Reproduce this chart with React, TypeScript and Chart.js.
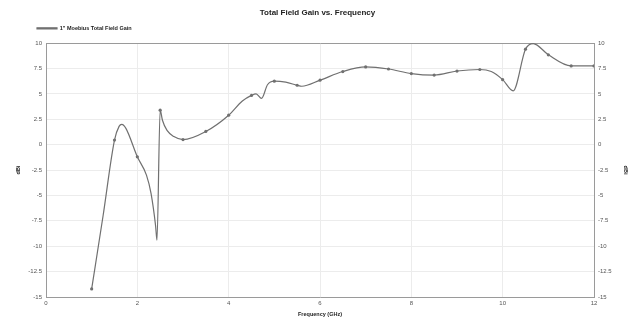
import React, { useEffect, useRef } from "react";
import { Chart, registerables } from "chart.js";

Chart.register(...registerables);

const chartTitle = "Total Field Gain vs. Frequency";
const seriesLabel = '1" Moebius Total Field Gain';
const xTitle = "Frequency (GHz)";
const yTitle = "dBi";

const freqs = [
  1.0, 1.25, 1.5, 1.6, 1.66, 1.75, 2.0, 2.2, 2.3, 2.4, 2.43, 2.5, 2.55, 2.65, 2.8, 3.0,
  3.5, 4.0, 4.3, 4.5, 4.6, 4.72, 4.85, 5.0, 5.25, 5.5, 5.6, 6.0, 6.5, 7.0, 7.5,
  8.0, 8.5, 9.0, 9.5, 9.75, 10.0, 10.23, 10.5, 10.67, 11.0, 11.5, 12.0,
];
const gains = [
  -14.2, -7.0, 0.45, 1.8, 2.0, 1.6, -1.2, -3.0, -4.8, -8.0, -9.4, 3.4, 2.4, 1.4, 0.8, 0.5,
  1.3, 2.9, 4.3, 4.85, 5.0, 4.55, 5.9, 6.25, 6.15, 5.85, 5.75, 6.35, 7.2, 7.65, 7.45,
  7.0, 6.85, 7.25, 7.4, 7.2, 6.4, 5.3, 9.4, 9.95, 8.85, 7.75, 7.75,
];
const markerFreqs = [
  1.0, 1.5, 2.0, 2.5, 3.0, 3.5, 4.0, 4.5, 5.0, 5.5, 6.0, 6.5, 7.0, 7.5, 8.0, 8.5,
  9.0, 9.5, 10.0, 10.5, 11.0, 11.5, 12.0,
];
const xMin = 0;
const xMax = 12;
const xStep = 2;
const yMin = -15;
const yMax = 10;
const yStep = 2.5;

const FONT = "'Liberation Sans', Arial, sans-serif";

export default function App() {
  const canvasRef = useRef<HTMLCanvasElement | null>(null);

  useEffect(() => {
    document.body.style.margin = "0";
    const canvas = canvasRef.current;
    if (!canvas) return;
    const lineColor = "#707070";
    const legendShift = {
      id: "legendShift",
      afterLayout(chart: any) {
        if (chart.legend) chart.legend.left += 32;
      },
    };
    const chart = new Chart(canvas, {
      type: "line",
      data: {
        datasets: [
          {
            label: seriesLabel,
            data: freqs.map((f, i) => ({ x: f, y: gains[i] })),
            borderColor: lineColor,
            backgroundColor: lineColor,
            borderWidth: 1.2,
            cubicInterpolationMode: "monotone",
            pointRadius: (ctx: any) =>
              markerFreqs.includes(freqs[ctx.dataIndex]) ? 1.6 : 0,
            pointBackgroundColor: lineColor,
            pointBorderColor: lineColor,
            pointBorderWidth: 0,
            fill: false,
            xAxisID: "x",
            yAxisID: "y",
          },
        ],
      },
      options: {
        animation: false,
        responsive: true,
        maintainAspectRatio: false,
        layout: { padding: 0 },
        plugins: {
          title: {
            display: true,
            text: chartTitle,
            color: "#222",
            font: { family: FONT, size: 8, weight: "bold" },
            padding: { top: 8, bottom: 3 },
          },
          legend: {
            display: true,
            align: "start",
            labels: {
              color: "#222",
              font: { family: FONT, size: 5.5, weight: "bold" },
              boxWidth: 20,
              boxHeight: 1,
              padding: 5,
            },
          },
          tooltip: { enabled: false },
        },
        scales: {
          x: {
            type: "linear",
            position: "bottom",
            min: xMin,
            max: xMax,
            afterFit: (s: any) => {
              s.height = 27;
            },
            ticks: {
              stepSize: xStep,
              color: "#555",
              font: { family: FONT, size: 6 },
              padding: 3,
            },
            grid: { color: "#ececec", drawTicks: false },
            border: { color: "#9a9a9a", width: 1 },
            title: {
              display: true,
              text: xTitle,
              color: "#222",
              font: { family: FONT, size: 5.5, weight: "bold" },
              padding: { top: 0, bottom: 6 },
            },
          },
          xTop: {
            type: "linear",
            position: "top",
            min: xMin,
            max: xMax,
            afterFit: (s: any) => {
              s.height = 2;
            },
            ticks: { display: false },
            grid: { display: false, drawTicks: false },
            border: { color: "#9a9a9a", width: 1 },
          },
          y: {
            type: "linear",
            position: "left",
            min: yMin,
            max: yMax,
            afterFit: (s: any) => {
              s.width = 46;
            },
            ticks: {
              stepSize: yStep,
              color: "#555",
              font: { family: FONT, size: 6 },
              padding: 4,
            },
            grid: { color: "#ececec", drawTicks: false },
            border: { color: "#9a9a9a", width: 1 },
            title: {
              display: true,
              text: yTitle,
              color: "#222",
              font: { family: FONT, size: 5.5, weight: "bold" },
              padding: { top: 15, bottom: 0 },
            },
          },
          y2: {
            type: "linear",
            position: "right",
            min: yMin,
            max: yMax,
            afterFit: (s: any) => {
              s.width = 41;
            },
            ticks: {
              stepSize: yStep,
              color: "#555",
              font: { family: FONT, size: 6 },
              padding: 4,
            },
            grid: { display: false, drawTicks: false },
            border: { color: "#9a9a9a", width: 1 },
            title: {
              display: true,
              text: yTitle,
              color: "#222",
              font: { family: FONT, size: 5.5, weight: "bold" },
              padding: { top: 6, bottom: 0 },
            },
          },
        },
      } as any,
      plugins: [legendShift],
    });
    return () => chart.destroy();
  }, []);

  return (
    <div style={{ position: "fixed", left: 0, top: 0, width: 635, height: 324 }}>
      <canvas ref={canvasRef} />
    </div>
  );
}
